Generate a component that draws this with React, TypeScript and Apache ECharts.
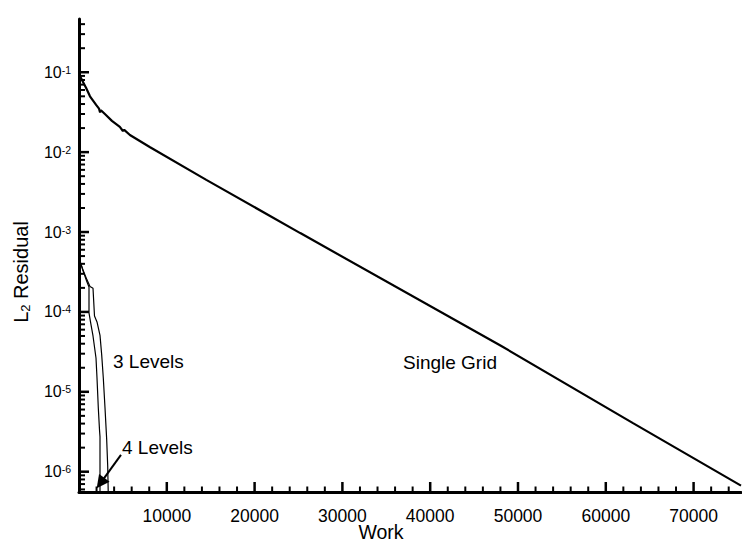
import React, { useEffect, useRef } from "react";
import * as echarts from "echarts";

// ---- data ----
const singleGridWork = [0, 110, 340, 800, 1250, 1950, 2280, 2400, 2500, 2950, 3750, 4650, 5000, 5150, 5800, 8100, 14500, 25200, 48000, 63100, 75400];
const singleGridResidual = [0.104, 0.09, 0.08, 0.064, 0.05, 0.039, 0.035, 0.0315, 0.0335, 0.03, 0.0246, 0.0207, 0.0184, 0.019, 0.0164, 0.0115, 0.0045, 9.7e-4, 3.8e-5, 4.05e-6, 6.7e-7];

const threeLevelWork = [0, 456, 911, 1253, 1595, 1765, 2050, 2392, 2585, 2768, 2961, 3155, 3269, 3337];
const threeLevelResidual = [4.7e-4, 3.36e-4, 2.52e-4, 2.08e-4, 1.98e-4, 8.9e-5, 7.5e-5, 5.08e-5, 2.9e-5, 1.49e-5, 6.3e-6, 2.5e-6, 1.18e-6, 5e-7];

const fourLevelWork = [0, 456, 911, 1139, 1139, 1310, 1595, 1936, 2050, 2198, 2335, 2392, 2392];
const fourLevelResidual = [4.7e-4, 3.26e-4, 2.37e-4, 2.05e-4, 9.7e-5, 7.5e-5, 5.0e-5, 2.65e-5, 1.49e-5, 6.3e-6, 3.34e-6, 2.73e-6, 5e-7];

// arrow from the "4 Levels" label to the 4-level curve (data coordinates)
const arrowFrom = [4780, 1.62e-6];
const arrowTo = [2450, 7.2e-7];

const xMajorTicks = [10000, 20000, 30000, 40000, 50000, 60000, 70000];
const xMinorStep = 2000;
const yDecadeTicks = [1e-6, 1e-5, 1e-4, 1e-3, 1e-2, 1e-1];

const workMin = 0;
const workMax = 75400;
const residualMin = 5.57e-7;
const residualMax = 0.464;

const FONT = "'Liberation Sans', Arial, Helvetica, sans-serif";
const INK = "#000";

const zip = (xs: number[], ys: number[]) => xs.map((x, i) => [x, ys[i]]);

function xMinorTicks(): number[] {
  const out: number[] = [];
  for (let v = xMinorStep; v <= workMax; v += xMinorStep) {
    if (v % 10000 !== 0) out.push(v);
  }
  return out;
}

function yMinorTicks(): number[] {
  const out: number[] = [];
  for (let e = -7; e <= 0; e++) {
    for (let k = 2; k <= 9; k++) {
      const v = k * Math.pow(10, e);
      if (v >= residualMin && v <= residualMax) out.push(v);
    }
  }
  return out;
}

// inward tick marks drawn through the axes' own scales
function yTickSeries(values: number[], len: number, width: number) {
  return {
    type: "custom",
    silent: true,
    clip: false,
    z: 5,
    data: values.map((v) => [workMin, v]),
    renderItem: (_p: any, api: any) => {
      const pt = api.coord([api.value(0), api.value(1)]);
      return {
        type: "line",
        shape: { x1: pt[0], y1: pt[1], x2: pt[0] + len, y2: pt[1] },
        style: { stroke: INK, lineWidth: width, fill: null },
      };
    },
  };
}

function xTickSeries(values: number[], len: number, width: number) {
  return {
    type: "custom",
    silent: true,
    clip: false,
    z: 5,
    data: values.map((v) => [v, residualMin]),
    renderItem: (_p: any, api: any) => {
      const pt = api.coord([api.value(0), api.value(1)]);
      return {
        type: "line",
        shape: { x1: pt[0], y1: pt[1], x2: pt[0], y2: pt[1] - len },
        style: { stroke: INK, lineWidth: width, fill: null },
      };
    },
  };
}

export default function App() {
  const ref = useRef<HTMLDivElement | null>(null);

  useEffect(() => {
    if (!ref.current) return;
    const chart = echarts.init(ref.current, undefined, { renderer: "svg" });

    const option: any = {
      animation: false,
      backgroundColor: "#fff",
      textStyle: { fontFamily: FONT, color: INK },
      grid: { left: 79, right: 1, top: 19, bottom: 52, containLabel: false, outerBoundsMode: "none" },
      xAxis: {
        type: "value",
        min: workMin,
        max: workMax,
        position: "bottom",
        splitLine: { show: false },
        axisLine: { show: true, onZero: false, lineStyle: { color: INK, width: 3 } },
        axisTick: { show: false },
        axisLabel: {
          show: true,
          margin: 15,
          customValues: xMajorTicks,
          formatter: (v: number) => String(v),
          fontFamily: FONT,
          fontSize: 17.5,
          color: INK,
        },
      },
      yAxis: {
        type: "log",
        logBase: 10,
        min: residualMin,
        max: residualMax,
        position: "left",
        splitLine: { show: false },
        axisLine: { show: true, onZero: false, lineStyle: { color: INK, width: 3 } },
        axisTick: { show: false },
        axisLabel: {
          show: true,
          margin: 8,
          customValues: yDecadeTicks,
          formatter: (v: number) => `{b|10}{s|${Math.round(Math.log10(v))}}`,
          rich: {
            b: { fontFamily: FONT, fontSize: 16, lineHeight: 16, color: INK },
            s: { fontFamily: FONT, fontSize: 10.5, lineHeight: 10, verticalAlign: "top", color: INK },
          },
        },
      },
      series: [
        {
          type: "line",
          name: "Single Grid",
          data: zip(singleGridWork, singleGridResidual),
          symbol: "none",
          silent: true,
          clip: true,
          lineStyle: { color: INK, width: 2.2 },
        },
        {
          type: "line",
          name: "3 Levels",
          data: zip(threeLevelWork, threeLevelResidual),
          symbol: "none",
          silent: true,
          clip: true,
          lineStyle: { color: INK, width: 1.2 },
        },
        {
          type: "line",
          name: "4 Levels",
          data: zip(fourLevelWork, fourLevelResidual),
          symbol: "none",
          silent: true,
          clip: true,
          lineStyle: { color: INK, width: 1.2 },
          markLine: {
            silent: true,
            symbol: ["none", "triangle"],
            symbolSize: 13,
            label: { show: false },
            itemStyle: { color: INK },
            lineStyle: { color: INK, width: 2, type: "solid" },
            emphasis: { disabled: true },
            data: [[{ coord: arrowFrom }, { coord: arrowTo }]],
          },
        },
        yTickSeries(yDecadeTicks, 10, 2.5),
        yTickSeries(yMinorTicks(), 6, 2),
        xTickSeries(xMajorTicks, 10, 2.5),
        xTickSeries(xMinorTicks(), 5.5, 2),
      ],
      graphic: [
        {
          type: "text",
          x: 21,
          y: 272,
          rotation: Math.PI / 2,
          style: {
            text: "{a|L}{s|2}{a| Residual}",
            align: "center",
            verticalAlign: "middle",
            rich: {
              a: { fontFamily: FONT, fontSize: 20, lineHeight: 22, color: INK },
              s: { fontFamily: FONT, fontSize: 13, lineHeight: 13, verticalAlign: "bottom", color: INK },
            },
          },
        },
        {
          type: "text",
          x: 381,
          y: 532,
          style: { text: "Work", fontFamily: FONT, fontSize: 19.5, fill: INK, align: "center", verticalAlign: "middle" },
        },
        {
          type: "text",
          x: 113,
          y: 361,
          style: { text: "3 Levels", fontFamily: FONT, fontSize: 19, fill: INK, align: "left", verticalAlign: "middle" },
        },
        {
          type: "text",
          x: 122,
          y: 447,
          style: { text: "4 Levels", fontFamily: FONT, fontSize: 19, fill: INK, align: "left", verticalAlign: "middle" },
        },
        {
          type: "text",
          x: 403,
          y: 362,
          style: { text: "Single Grid", fontFamily: FONT, fontSize: 19, fill: INK, align: "left", verticalAlign: "middle" },
        },
      ],
    };

    chart.setOption(option);
    return () => chart.dispose();
  }, []);

  return (
    <div
      ref={ref}
      style={{ position: "absolute", left: 0, top: 0, width: 742, height: 544, background: "#fff" }}
    />
  );
}
